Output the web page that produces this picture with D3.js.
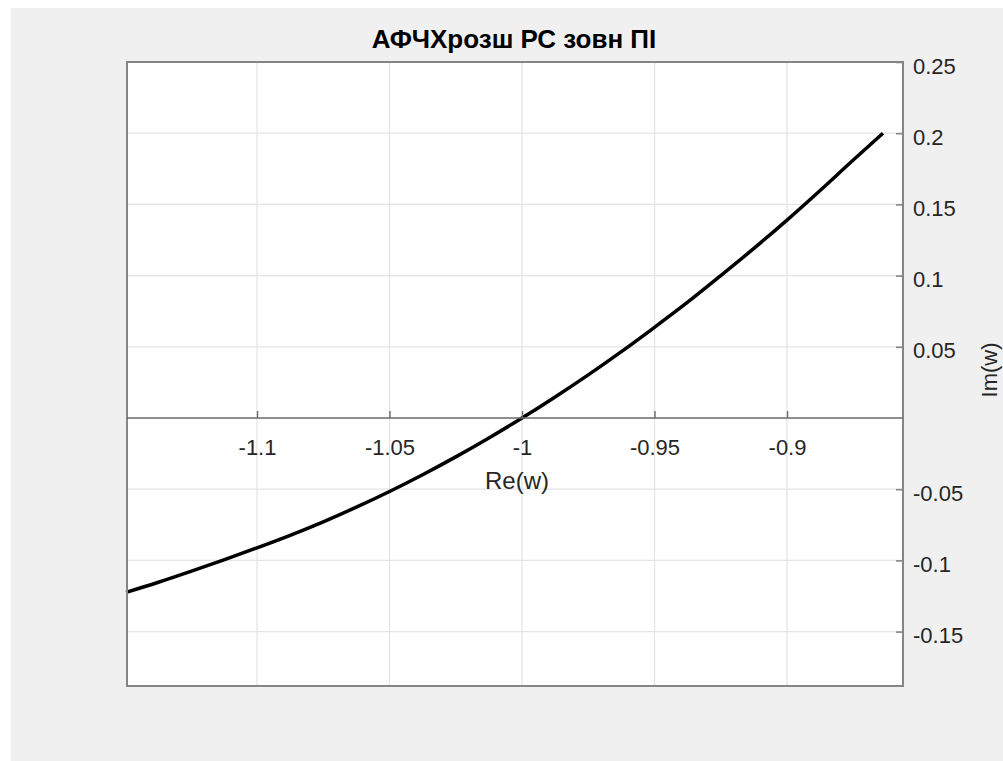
<!DOCTYPE html>
<html>
<head>
<meta charset="utf-8">
<script src="https://cdn.jsdelivr.net/npm/d3@7/dist/d3.min.js"></script>
<style>
  html, body { margin: 0; padding: 0; background: #ffffff; }
  svg { display: block; }
  text { font-family: "Liberation Sans", Arial, Helvetica, sans-serif; }
</style>
</head>
<body>
<svg id="chart" width="1003" height="761"></svg>
<script>
// Frequency response curve (real part, imaginary part)
const reValues = [-1.1494, -1.1375, -1.125, -1.1125, -1.1, -1.0875, -1.075, -1.0625, -1.05, -1.0375, -1.025, -1.0125, -1.0,
                  -0.9875, -0.975, -0.9625, -0.95, -0.9375, -0.925, -0.9125, -0.9, -0.8875, -0.875, -0.8638];
const imValues = [-0.1224, -0.1155, -0.1077, -0.0996, -0.0912, -0.0824, -0.0729, -0.0626, -0.0516, -0.0398, -0.0273, -0.0140, 0.0,
                  0.0148, 0.0303, 0.0466, 0.0637, 0.0813, 0.1000, 0.1191, 0.1390, 0.1598, 0.1812, 0.2000];

const xTicks = [-1.1, -1.05, -1, -0.95, -0.9];
const xTickLabels = ["-1.1", "-1.05", "-1", "-0.95", "-0.9"];
const yTicks = [-0.15, -0.1, -0.05, 0.05, 0.1, 0.15, 0.2, 0.25];
const yTickLabels = ["-0.15", "-0.1", "-0.05", "0.05", "0.1", "0.15", "0.2", "0.25"];

const xLimits = [-1.14906, -0.85623];
const yLimits = [-0.1882, 0.25];

const titleText = "АФЧХрозш РС зовн ПІ";
const xLabelText = "Re(w)";
const yLabelText = "Im(w)";

const svg = d3.select("#chart");
const W = 1003, H = 761;
const plot = { left: 127, right: 903, top: 62, bottom: 686 };

// figure background
svg.append("rect").attr("x", 11).attr("y", 8).attr("width", W - 11).attr("height", H - 8).attr("fill", "#f0f0f0");

const x = d3.scaleLinear().domain(xLimits).range([plot.left, plot.right]);
const y = d3.scaleLinear().domain(yLimits).range([plot.bottom, plot.top]);

// axes background
svg.append("rect")
  .attr("x", plot.left).attr("y", plot.top)
  .attr("width", plot.right - plot.left).attr("height", plot.bottom - plot.top)
  .attr("fill", "#ffffff");

// grid
const grid = svg.append("g").attr("stroke", "#e3e3e3").attr("stroke-width", 1.2);
grid.selectAll("line.v").data(xTicks).join("line")
  .attr("x1", d => x(d)).attr("x2", d => x(d))
  .attr("y1", plot.top).attr("y2", plot.bottom);
grid.selectAll("line.h").data(yTicks).join("line")
  .attr("y1", d => y(d)).attr("y2", d => y(d))
  .attr("x1", plot.left).attr("x2", plot.right);

// curve
const pts = reValues.map((r, i) => [r, imValues[i]]);
const line = d3.line().x(d => x(d[0])).y(d => y(d[1])).curve(d3.curveMonotoneX);
svg.append("path").datum(pts)
  .attr("d", line)
  .attr("fill", "none")
  .attr("stroke", "#000000")
  .attr("stroke-width", 3.5)
  .attr("stroke-linejoin", "round");

// axes box
svg.append("rect")
  .attr("x", plot.left).attr("y", plot.top)
  .attr("width", plot.right - plot.left).attr("height", plot.bottom - plot.top)
  .attr("fill", "none").attr("stroke", "#858585").attr("stroke-width", 2);

// x axis crossing at Im = 0
const xAxis = d3.axisBottom(x)
  .tickValues(xTicks)
  .tickFormat((d, i) => xTickLabels[i])
  .tickSize(-7)
  .tickPadding(21);
const gx = svg.append("g").attr("transform", `translate(0,${y(0)})`).call(xAxis);
gx.select(".domain").remove();
gx.append("line")
  .attr("x1", plot.left).attr("x2", plot.right)
  .attr("stroke", "#6a6a6a").attr("stroke-width", 1.4);
gx.selectAll(".tick line").attr("stroke", "#6a6a6a").attr("stroke-width", 1.4);
gx.selectAll(".tick text")
  .attr("fill", "#262626")
  .style("font-size", "22px");

// y axis on the right side
const yAxis = d3.axisRight(y)
  .tickValues(yTicks)
  .tickFormat((d, i) => yTickLabels[i])
  .tickSize(-7)
  .tickPadding(10);
const gy = svg.append("g").attr("transform", `translate(${plot.right},0)`).call(yAxis);
gy.select(".domain").remove();
gy.selectAll(".tick line").attr("stroke", "#858585").attr("stroke-width", 1.6);
gy.selectAll(".tick text")
  .attr("fill", "#262626")
  .attr("dy", "0.5em")
  .style("font-size", "22px");

// title
svg.append("text")
  .attr("x", 514).attr("y", 48)
  .attr("text-anchor", "middle")
  .attr("fill", "#000000")
  .style("font-size", "26px")
  .style("font-weight", "bold")
  .text(titleText);

// axis labels
svg.append("text")
  .attr("x", 517).attr("y", 489)
  .attr("text-anchor", "middle")
  .attr("fill", "#262626")
  .style("font-size", "24px")
  .text(xLabelText);

svg.append("text")
  .attr("transform", "translate(997,370) rotate(-90)")
  .attr("text-anchor", "middle")
  .attr("fill", "#262626")
  .style("font-size", "22px")
  .text(yLabelText);
</script>
</body>
</html>
